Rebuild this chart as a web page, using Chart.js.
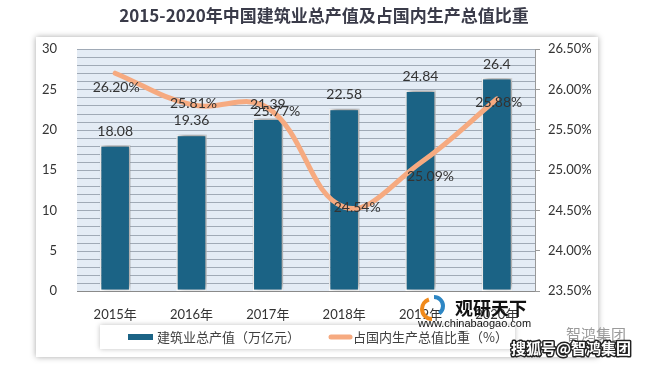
<!DOCTYPE html>
<html>
<head>
<meta charset="utf-8">
<script src="https://cdn.jsdelivr.net/npm/chart.js@4.4.0/dist/chart.umd.min.js"></script>
<style>
  html, body { margin: 0; padding: 0; background: #fff; }
  #wrap { width: 648px; height: 365px; position: relative; }
</style>
</head>
<body>
<div id="wrap"><canvas id="c"></canvas></div>
<script>
// 数据
const years = ['2015年', '2016年', '2017年', '2018年', '2019年', '2020年'];
const outputValue = [18.08, 19.36, 21.39, 22.58, 24.84, 26.4];   // 万亿元
const gdpShare = [26.20, 25.81, 25.77, 24.54, 25.09, 25.88];     // %
const titleText = '2015-2020年中国建筑业总产值及占国内生产总值比重';

const FONT = 'Lato, "Noto Sans CJK SC", sans-serif';
const CJK = '"Noto Sans CJK SC", sans-serif';
const barColor = '#1b6385';
const lineColor = '#f6aa80';

// 外框 + 标题
const framePlugin = {
    id: 'frame',
    beforeDraw(chart) {
        const ctx = chart.ctx;
        ctx.save();
        ctx.fillStyle = '#fff';
        ctx.fillRect(0, 0, chart.width, chart.height);
        ctx.shadowColor = 'rgba(0,0,0,0.35)';
        ctx.shadowBlur = 6;
        ctx.fillRect(36, 37, 562, 320);
        ctx.restore();
        ctx.save();
        ctx.fillStyle = '#3a3b49';
        ctx.font = 'bold 17px ' + CJK;
        ctx.textAlign = 'center';
        ctx.textBaseline = 'middle';
        ctx.fillText(titleText, 324, 16);
        ctx.restore();
    }
};

// 绘图区底色 + 网格线（每 1 个单位一条，按 y 轴换算）
const gridPlugin = {
    id: 'stripes',
    beforeDatasetsDraw(chart) {
        const ctx = chart.ctx;
        const a = chart.chartArea;
        const y = chart.scales.y;
        ctx.save();
        ctx.fillStyle = 'rgb(228,236,245)';
        ctx.fillRect(a.left, a.top, a.right - a.left, a.bottom - a.top);
        ctx.lineWidth = 1;
        ctx.strokeStyle = 'rgb(160,170,182)';
        for (let v = y.min + 1; v <= y.max; v++) {
            const py = Math.round(y.getPixelForValue(v));
            ctx.beginPath();
            ctx.moveTo(a.left, py + 0.5);
            ctx.lineTo(a.right, py + 0.5);
            ctx.stroke();
        }
        ctx.restore();
    }
};

// 柱子阴影
const shadowPlugin = {
    id: 'barShadow',
    beforeDatasetDraw(chart, args) {
        if (args.meta.type !== 'bar') return;
        const ctx = chart.ctx;
        ctx.save();
        ctx.shadowColor = 'rgba(0,0,0,0.45)';
        ctx.shadowBlur = 6;
        ctx.shadowOffsetX = 2;
        ctx.shadowOffsetY = -2;
    },
    afterDatasetDraw(chart, args) {
        if (args.meta.type !== 'bar') return;
        chart.ctx.restore();
    }
};

// 数据标签
const lineLabelOffsets = [[1, 14], [2, -1], [9, 4], [13, 0], [10, 14], [2, 3]];
const labelPlugin = {
    id: 'labels',
    afterDatasetsDraw(chart) {
        const ctx = chart.ctx;
        ctx.save();
        ctx.font = '14px ' + FONT;
        ctx.fillStyle = '#333';
        ctx.textAlign = 'center';
        ctx.textBaseline = 'middle';
        const barMeta = chart.getDatasetMeta(1);
        barMeta.data.forEach((el, i) => {
            ctx.fillText(String(outputValue[i]), el.x, el.y - 14);
        });
        const lineMeta = chart.getDatasetMeta(0);
        lineMeta.data.forEach((el, i) => {
            const o = lineLabelOffsets[i];
            ctx.fillText(gdpShare[i].toFixed(2) + '%', el.x + o[0], el.y + o[1]);
        });
        ctx.restore();
    }
};

// 图例 + 水印
const legendPlugin = {
    id: 'customLegend',
    afterDraw(chart) {
        const ctx = chart.ctx;
        const ds = chart.data.datasets;
        ctx.save();
        ctx.shadowColor = 'rgba(0,0,0,0.25)';
        ctx.shadowBlur = 5;
        ctx.fillStyle = '#fff';
        ctx.fillRect(100, 325, 415, 24);
        ctx.restore();
        ctx.save();
        ctx.fillStyle = barColor;
        ctx.fillRect(128, 334, 25, 6);
        ctx.strokeStyle = lineColor;
        ctx.lineWidth = 5;
        ctx.lineCap = 'round';
        ctx.beginPath();
        ctx.moveTo(331, 337);
        ctx.lineTo(350, 337);
        ctx.stroke();
        ctx.font = '13px ' + CJK;
        ctx.fillStyle = '#404040';
        ctx.textBaseline = 'middle';
        ctx.fillText(ds[1].label, 157, 337);
        ctx.fillText(ds[0].label, 353, 337);

        // 水印
        ctx.lineWidth = 4;
        ctx.lineCap = 'butt';
        ctx.strokeStyle = '#f08a1c';
        ctx.beginPath();
        ctx.arc(432, 309, 10, Math.PI * 0.5, Math.PI * 1.4);
        ctx.stroke();
        ctx.strokeStyle = '#2d86c4';
        ctx.beginPath();
        ctx.arc(434, 306, 9, Math.PI * 1.5, Math.PI * 2.3);
        ctx.stroke();
        ctx.fillStyle = '#111';
        ctx.font = 'bold 18px ' + CJK;
        ctx.fillText('观研天下', 455, 308);
        ctx.font = '11px "Liberation Sans", sans-serif';
        ctx.fillText('www.chinabaogao.com', 418, 324);
        ctx.fillStyle = '#9a9a9a';
        ctx.font = '15px ' + CJK;
        ctx.fillText('智鸿集团', 566, 334);
        ctx.font = 'bold 15px ' + CJK;
        ctx.lineWidth = 3;
        ctx.strokeStyle = '#222';
        ctx.lineJoin = 'round';
        ctx.strokeText('搜狐号@智鸿集团', 511, 348);
        ctx.fillStyle = '#fff';
        ctx.fillText('搜狐号@智鸿集团', 511, 348);
        ctx.restore();
    }
};

new Chart(document.getElementById('c'), {
    data: {
        labels: years,
        datasets: [
            {
                type: 'line',
                label: '占国内生产总值比重（%）',
                data: gdpShare,
                borderColor: lineColor,
                borderWidth: 5,
                borderCapStyle: 'round',
                tension: 0.4,
                pointRadius: 0,
                fill: false,
                yAxisID: 'y1',
                order: 0
            },
            {
                type: 'bar',
                label: '建筑业总产值（万亿元）',
                data: outputValue,
                backgroundColor: barColor,
                borderColor: '#ffffff',
                borderWidth: 1.5,
                borderSkipped: false,
                categoryPercentage: 1,
                barPercentage: 0.4,
                yAxisID: 'y',
                order: 1
            }
        ]
    },
    options: {
        responsive: true,
        maintainAspectRatio: false,
        animation: false,
        layout: { padding: { left: 40, right: 48, top: 49, bottom: 44 } },
        plugins: {
            legend: { display: false },
            tooltip: { enabled: false }
        },
        scales: {
            x: {
                grid: { display: false },
                border: { display: true, color: '#8a8a8a', width: 1 },
                ticks: { color: '#333', font: { size: 13, family: FONT }, padding: 8 },
                afterFit(s) { s.height = 30; }
            },
            y: {
                position: 'left',
                min: 0,
                max: 30,
                grid: { display: false },
                border: { display: false },
                ticks: {
                    stepSize: 5,
                    color: '#333',
                    font: { size: 13, family: FONT },
                    padding: 12
                },
                afterFit(s) { s.width = 37; }
            },
            y1: {
                position: 'right',
                min: 23.5,
                max: 26.5,
                grid: { drawOnChartArea: false, color: '#999', tickLength: 5 },
                border: { display: true, color: '#999' },
                ticks: {
                    stepSize: 0.5,
                    color: '#333',
                    font: { size: 13, family: FONT },
                    padding: 8,
                    callback: v => v.toFixed(2) + '%'
                },
                afterFit(s) { s.width = 65; }
            }
        }
    },
    plugins: [framePlugin, gridPlugin, shadowPlugin, labelPlugin, legendPlugin]
});
</script>
</body>
</html>
